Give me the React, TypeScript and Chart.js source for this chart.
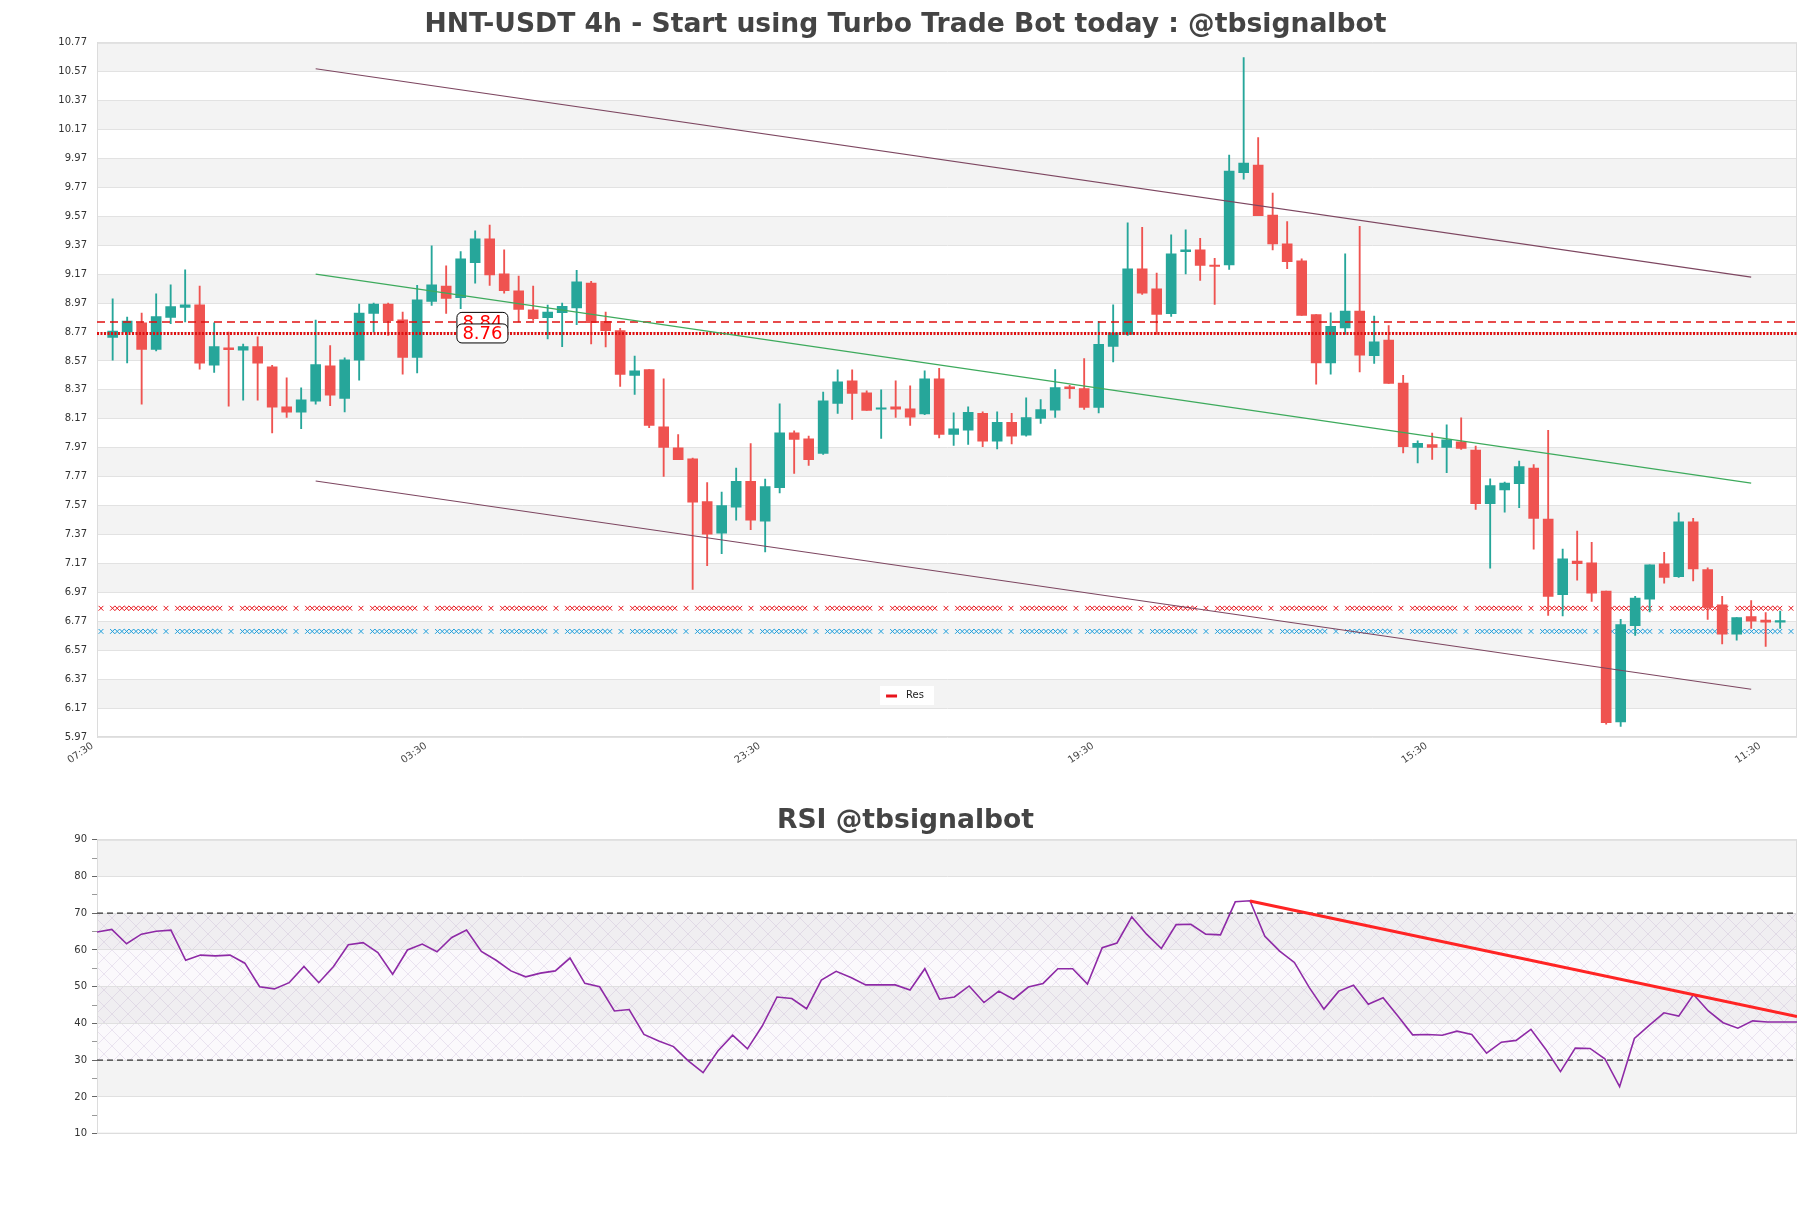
import React, { useEffect, useRef } from 'react';
import { Chart, registerables } from 'chart.js';

Chart.register(...registerables);

const FONT = '"DejaVu Sans", sans-serif';
const GREEN = '#26a69a';
const RED = '#ef5350';

// ---------- data ----------
const opens = [8.733, 8.770, 8.834, 8.650, 8.871, 8.940, 8.958, 8.540, 8.660, 8.644, 8.669, 8.529, 8.253, 8.216, 8.292, 8.536, 8.310, 8.575, 8.899, 8.963, 8.855, 8.595, 8.981, 9.087, 9.007, 9.250, 9.414, 9.172, 9.055, 8.924, 8.869, 8.903, 8.936, 9.109, 8.844, 8.779, 8.469, 8.510, 8.115, 7.970, 7.894, 7.598, 7.379, 7.559, 7.738, 7.462, 7.694, 8.073, 8.032, 7.931, 8.276, 8.432, 8.349, 8.236, 8.253, 8.239, 8.204, 8.446, 8.062, 8.092, 8.207, 8.016, 8.145, 8.057, 8.172, 8.230, 8.391, 8.379, 8.248, 8.671, 8.754, 9.207, 9.069, 8.897, 9.326, 9.338, 9.232, 9.234, 9.871, 9.924, 9.579, 9.379, 9.262, 8.890, 8.556, 8.798, 8.915, 8.607, 8.714, 8.417, 7.972, 7.991, 7.972, 8.010, 7.953, 7.584, 7.679, 7.722, 7.829, 7.477, 6.954, 7.187, 7.175, 6.978, 6.074, 6.740, 6.923, 7.168, 7.078, 7.458, 7.128, 6.883, 6.681, 6.802, 6.778, 6.764];
const highs = [9.00, 8.873, 8.90, 9.034, 9.096, 9.20, 9.087, 8.834, 8.77, 8.687, 8.736, 8.540, 8.453, 8.384, 8.853, 8.676, 8.591, 8.963, 8.97, 8.97, 8.908, 9.092, 9.365, 9.227, 9.326, 9.469, 9.510, 9.338, 9.156, 9.087, 8.956, 8.97, 9.197, 9.12, 8.908, 8.795, 8.604, 8.51, 8.446, 8.06, 7.899, 7.729, 7.664, 7.830, 7.998, 7.754, 8.273, 8.087, 8.050, 8.354, 8.508, 8.508, 8.363, 8.370, 8.432, 8.398, 8.501, 8.519, 8.211, 8.253, 8.218, 8.218, 8.207, 8.315, 8.303, 8.510, 8.402, 8.586, 8.844, 8.958, 9.524, 9.494, 9.177, 9.441, 9.476, 9.418, 9.280, 9.993, 10.667, 10.115, 9.731, 9.533, 9.276, 8.89, 8.903, 9.310, 9.501, 8.880, 8.814, 8.471, 8.017, 8.072, 8.129, 8.176, 7.981, 7.755, 7.732, 7.877, 7.853, 8.091, 7.270, 7.394, 7.316, 6.978, 6.783, 6.942, 7.161, 7.247, 7.520, 7.482, 7.140, 6.942, 6.795, 6.914, 6.830, 6.840];
const lows = [8.575, 8.556, 8.271, 8.639, 8.827, 8.839, 8.513, 8.490, 8.257, 8.299, 8.299, 8.073, 8.179, 8.101, 8.271, 8.260, 8.218, 8.437, 8.77, 8.747, 8.478, 8.487, 8.954, 8.899, 8.931, 9.108, 9.092, 9.039, 8.839, 8.850, 8.722, 8.669, 8.821, 8.687, 8.667, 8.393, 8.338, 8.108, 7.772, 7.887, 6.99, 7.154, 7.237, 7.469, 7.404, 7.250, 7.657, 7.793, 7.848, 7.924, 8.207, 8.165, 8.227, 8.034, 8.179, 8.124, 8.198, 8.037, 7.986, 7.993, 7.977, 7.961, 7.996, 8.050, 8.138, 8.179, 8.310, 8.234, 8.211, 8.563, 8.747, 9.030, 8.754, 8.878, 9.172, 9.126, 8.961, 9.202, 9.827, 9.575, 9.338, 9.207, 8.885, 8.409, 8.478, 8.754, 8.494, 8.552, 8.414, 7.934, 7.865, 7.889, 7.798, 7.958, 7.544, 7.137, 7.525, 7.556, 7.268, 6.811, 6.807, 7.054, 6.907, 6.058, 6.043, 6.673, 6.835, 7.033, 7.073, 7.049, 6.783, 6.614, 6.640, 6.721, 6.597, 6.721];
const closes = [8.777, 8.846, 8.650, 8.876, 8.945, 8.958, 8.554, 8.669, 8.648, 8.669, 8.554, 8.250, 8.216, 8.301, 8.545, 8.333, 8.577, 8.901, 8.963, 8.848, 8.595, 8.993, 9.096, 9.002, 9.276, 9.414, 9.165, 9.055, 8.926, 8.862, 8.908, 8.947, 9.117, 8.834, 8.779, 8.476, 8.501, 8.124, 7.972, 7.887, 7.593, 7.372, 7.570, 7.738, 7.469, 7.701, 8.073, 8.027, 7.887, 8.294, 8.425, 8.345, 8.227, 8.240, 8.237, 8.181, 8.446, 8.062, 8.101, 8.214, 8.016, 8.145, 8.050, 8.179, 8.234, 8.386, 8.379, 8.248, 8.685, 8.765, 9.207, 9.039, 8.892, 9.310, 9.338, 9.230, 9.223, 9.883, 9.938, 9.575, 9.379, 9.257, 8.885, 8.556, 8.809, 8.915, 8.609, 8.702, 8.414, 7.977, 8.000, 7.972, 8.024, 7.965, 7.584, 7.708, 7.725, 7.839, 7.482, 6.942, 7.201, 7.168, 6.964, 6.069, 6.747, 6.930, 7.161, 7.073, 7.458, 7.132, 6.866, 6.681, 6.795, 6.771, 6.764, 6.771];

const rsiValues = [64.9, 65.6, 61.7, 64.3, 65.1, 65.4, 57.2, 58.6, 58.4, 58.6, 56.4, 50.0, 49.4, 51.1, 55.5, 51.1, 55.5, 61.4, 62.0, 59.3, 53.4, 60.0, 61.6, 59.5, 63.4, 65.4, 59.6, 57.2, 54.3, 52.7, 53.7, 54.3, 57.8, 50.9, 50.0, 43.4, 43.8, 37.0, 35.2, 33.7, 29.8, 26.6, 32.5, 36.8, 33.1, 39.3, 47.2, 46.8, 44.0, 51.8, 54.2, 52.5, 50.5, 50.5, 50.5, 49.1, 54.9, 46.6, 47.2, 50.2, 45.7, 48.8, 46.6, 49.9, 50.9, 54.9, 54.9, 50.7, 60.6, 61.9, 69.0, 64.3, 60.4, 66.9, 67.0, 64.3, 64.1, 73.1, 73.4, 63.7, 59.7, 56.6, 49.8, 43.9, 48.8, 50.4, 45.2, 47.0, 42.0, 36.9, 37.0, 36.8, 37.9, 37.0, 31.9, 34.9, 35.4, 38.4, 33.0, 26.9, 33.3, 33.2, 30.4, 22.8, 35.9, 39.5, 42.9, 42.0, 47.9, 43.4, 40.2, 38.7, 40.7, 40.4, 40.4, 40.4];

const xTickPositions = [-1.4, 21.6, 44.6, 67.6, 90.6, 113.6];
const xTickLabels = ['07:30', '03:30', '23:30', '19:30', '15:30', '11:30'];

const trendX = [14, 113];
const channelUpper = [10.59, 9.15];
const channelLower = [7.74, 6.30];
const channelMid = [9.17, 7.725];

const resDashed = 8.84;
const resDotted = 8.76;
const supportLevels = [6.86, 6.70];
const supportColors = ['#e8141c', '#1e9fdc'];
const labelAtIndex = 25.5;

const rsiTrendX = [78, 115];
const rsiTrendY = [73.3, 41.9];
const rsiLevels = [70, 30];

const X_MIN = -1.08;
const X_MAX = 116.16;

// marker pattern (pixel offsets inside one repeat), purely stylistic
const MARK_PERIOD = 65;
const MARK_OFFSETS = [0, 11.5, 16.2, 20.9, 25.6, 30.3, 35.0, 39.7, 44.4, 49.1, 53.8];

function yPriceTicks() {
  const t = [];
  for (let k = 0; k <= 24; k++) t.push({ value: +(5.97 + 0.2 * k).toFixed(2) });
  return t;
}

function bandsPlugin(step: number, hatch: boolean) {
  return {
    id: 'bands',
    beforeDraw(chart: any) {
      const { ctx, chartArea: a, scales } = chart;
      const y = scales.y;
      ctx.save();
      ctx.fillStyle = '#fff';
      ctx.fillRect(0, 0, chart.width, chart.height);
      ctx.fillStyle = '#f3f3f3';
      let k = 0;
      for (let top = y.max; top - step >= y.min - 1e-6; top -= step, k++) {
        if (k % 2 === 0) {
          const p1 = y.getPixelForValue(top);
          const p2 = y.getPixelForValue(top - step);
          ctx.fillRect(a.left, p1, a.right - a.left, p2 - p1);
        }
      }
      if (hatch) {
        const pc = document.createElement('canvas');
        pc.width = 16; pc.height = 16;
        const p = pc.getContext('2d')!;
        p.strokeStyle = 'rgba(150,120,180,0.22)';
        p.lineWidth = 0.8;
        p.beginPath();
        p.moveTo(0, 0); p.lineTo(16, 16);
        p.moveTo(16, 0); p.lineTo(0, 16);
        p.stroke();
        const pat = ctx.createPattern(pc, 'repeat');
        ctx.fillStyle = pat;
        const p1 = y.getPixelForValue(70);
        const p2 = y.getPixelForValue(30);
        ctx.fillRect(a.left, p1, a.right - a.left, p2 - p1);
        ctx.fillStyle = 'rgba(200,180,220,0.08)';
        ctx.fillRect(a.left, p1, a.right - a.left, p2 - p1);
      }
      ctx.restore();
    },
    beforeDatasetsDraw(chart: any) {
      const { ctx, chartArea: a } = chart;
      ctx.save();
      ctx.strokeStyle = '#dcdcdc';
      ctx.lineWidth = 1;
      ctx.strokeRect(a.left + 0.5, a.top + 0.5, a.right - a.left - 1, a.bottom - a.top - 1);
      ctx.restore();
    },
  };
}

const supportMarkersPlugin = {
  id: 'supportMarkers',
  beforeDatasetsDraw(chart: any) {
    const { ctx, chartArea: a, scales } = chart;
    ctx.save();
    ctx.beginPath();
    ctx.rect(a.left, a.top, a.right - a.left, a.bottom - a.top);
    ctx.clip();
    ctx.lineWidth = 1;
    supportLevels.forEach((lv, li) => {
      const y = scales.y.getPixelForValue(lv);
      ctx.strokeStyle = supportColors[li];
      ctx.beginPath();
      const r = 2.4;
      for (let base = a.left + 4; base < a.right; base += MARK_PERIOD) {
        MARK_OFFSETS.forEach((o) => {
          const x = base + o;
          if (x > a.right) return;
          ctx.moveTo(x - r, y - r);
          ctx.lineTo(x + r, y + r);
          ctx.moveTo(x - r, y + r);
          ctx.lineTo(x + r, y - r);
        });
      }
      ctx.stroke();
    });
    ctx.restore();
  },
};

const priceLabelsPlugin = {
  id: 'priceLabels',
  afterDatasetsDraw(chart: any) {
    const { ctx, scales, chartArea: a } = chart;
    const x = scales.x.getPixelForValue(labelAtIndex);
    ctx.save();
    ctx.font = `18px ${FONT}`;
    ctx.textAlign = 'center';
    ctx.textBaseline = 'middle';
    [resDashed, resDotted].forEach((v) => {
      const y = scales.y.getPixelForValue(v);
      const w = 51, h = 19;
      ctx.beginPath();
      ctx.roundRect(x - w / 2, y - h / 2, w, h, 5);
      ctx.fillStyle = '#fff';
      ctx.fill();
      ctx.strokeStyle = '#000';
      ctx.lineWidth = 1;
      ctx.stroke();
      ctx.fillStyle = '#ff0000';
      ctx.fillText(v.toFixed(2), x, y + 1);
    });
    // legend "Res"
    const lx = a.left + (a.right - a.left) * 0.4765;
    const ly = a.bottom - 41.5;
    ctx.fillStyle = '#fff';
    ctx.fillRect(lx - 27, ly - 9.5, 54, 19);
    ctx.strokeStyle = '#e8141c';
    ctx.lineWidth = 3;
    ctx.beginPath();
    ctx.moveTo(lx - 21, ly + 0.5);
    ctx.lineTo(lx - 10, ly + 0.5);
    ctx.stroke();
    ctx.fillStyle = '#222';
    ctx.font = `10px ${FONT}`;
    ctx.textAlign = 'left';
    ctx.fillText('Res', lx - 1, ly);
    ctx.restore();
  },
};

function hLine(v: number, color: string, width: number, dash: number[]) {
  return {
    type: 'line' as const,
    data: [{ x: X_MIN, y: v }, { x: X_MAX, y: v }],
    borderColor: color,
    borderWidth: width,
    borderDash: dash,
    pointRadius: 0,
    order: 0,
  };
}

function trend(ys: number[], color: string) {
  return {
    type: 'line' as const,
    data: [{ x: trendX[0], y: ys[0] }, { x: trendX[1], y: ys[1] }],
    borderColor: color,
    borderWidth: 1.2,
    pointRadius: 0,
    order: 0,
  };
}

export default function App() {
  const priceRef = useRef<HTMLCanvasElement>(null);
  const rsiRef = useRef<HTMLCanvasElement>(null);

  useEffect(() => {
    const idx = opens.map((_, i) => i);
    const colors = idx.map((i) => (closes[i] >= opens[i] ? GREEN : RED));

    const priceChart = new Chart(priceRef.current!, {
      type: 'bar',
      data: {
        datasets: [
          trend(channelUpper, '#7d4660'),
          trend(channelLower, '#7d4660'),
          trend(channelMid, '#3daa5c'),
          hLine(resDashed, '#e01010', 1.5, [8, 5]),
          hLine(resDotted, '#e01010', 3, [2, 1.5]),
          {
            type: 'bar',
            data: idx.map((i) => ({ x: i, y: [opens[i], closes[i]] })),
            backgroundColor: colors,
            barThickness: 10,
            minBarLength: 1.5,
            grouped: false,
            order: 1,
          } as any,
          {
            type: 'bar',
            data: idx.map((i) => ({ x: i, y: [lows[i], highs[i]] })),
            backgroundColor: colors,
            barThickness: 1.2,
            grouped: false,
            order: 2,
          } as any,
        ],
      },
      options: {
        animation: false,
        responsive: false,
        events: [],
        layout: { padding: { left: 14, right: 14, top: 0, bottom: 0 } },
        plugins: {
          legend: { display: false },
          tooltip: { enabled: false },
          title: {
            display: true,
            text: 'HNT-USDT 4h - Start using Turbo Trade Bot today : @tbsignalbot',
            color: '#444',
            font: { family: FONT, size: 26.6, weight: 'bold' },
            padding: { top: 9.2, bottom: 1.6 },
          },
        },
        scales: {
          x: {
            type: 'linear',
            min: X_MIN,
            max: X_MAX,
            offset: false,
            grid: { display: false, drawTicks: false },
            border: { display: false },
            afterBuildTicks: (s: any) => {
              s.ticks = xTickPositions.map((v) => ({ value: v }));
            },
            afterFit: (s: any) => {
              s.height = 53;
            },
            ticks: {
              autoSkip: false,
              minRotation: 35,
              maxRotation: 35,
              padding: 3,
              color: '#444',
              font: { family: FONT, size: 10 },
              callback: (_v: any, i: number) => xTickLabels[i],
            },
          },
          y: {
            type: 'linear',
            min: 5.97,
            max: 10.77,
            afterBuildTicks: (s: any) => {
              s.ticks = yPriceTicks();
            },
            afterFit: (s: any) => {
              s.width = 83;
            },
            grid: { color: '#e2e2e2', drawTicks: false },
            border: { display: true, color: '#dcdcdc' },
            ticks: {
              padding: 10,
              color: '#333',
              font: { family: FONT, size: 10 },
              callback: (v: any) => Number(v).toFixed(2),
            },
          },
        },
      },
      plugins: [bandsPlugin(0.2, false), supportMarkersPlugin, priceLabelsPlugin],
    } as any);

    const rsiChart = new Chart(rsiRef.current!, {
      type: 'line',
      data: {
        datasets: [
          {
            data: [{ x: rsiTrendX[0], y: rsiTrendY[0] }, { x: rsiTrendX[1], y: rsiTrendY[1] }],
            borderColor: '#ff2424',
            borderWidth: 3,
            pointRadius: 0,
            order: 0,
          },
          {
            data: rsiValues.map((v, i) => ({ x: i, y: v })),
            borderColor: '#8e2aa6',
            borderWidth: 1.6,
            pointRadius: 0,
            tension: 0,
            order: 1,
          },
          ...rsiLevels.map((lv) => ({
            data: [{ x: 0, y: lv }, { x: rsiValues.length - 1, y: lv }],
            borderColor: '#333',
            borderWidth: 1.2,
            borderDash: [6, 4],
            pointRadius: 0,
            order: 2,
          })),
        ],
      },
      options: {
        animation: false,
        responsive: false,
        events: [],
        layout: { padding: { left: 14, right: 14, top: 0, bottom: 74.3 } },
        plugins: {
          legend: { display: false },
          tooltip: { enabled: false },
          title: {
            display: true,
            text: 'RSI @tbsignalbot',
            color: '#444',
            font: { family: FONT, size: 26.6, weight: 'bold' },
            padding: { top: 15.1, bottom: 2.7 },
          },
        },
        scales: {
          x: { type: 'linear', min: 0, max: rsiValues.length - 1, display: false },
          y: {
            min: 10,
            max: 90,
            afterBuildTicks: (s: any) => {
              const t = [];
              for (let v = 10; v <= 90; v += 5) t.push({ value: v });
              s.ticks = t;
            },
            afterFit: (s: any) => {
              s.width = 83;
            },
            grid: {
              color: (c: any) => (c.tick && c.tick.value % 10 === 0 ? '#e0e0e0' : 'rgba(0,0,0,0)'),
              tickColor: (c: any) => (c.tick && c.tick.value % 10 === 0 ? '#666' : '#999'),
              tickLength: 5,
            },
            border: { display: true, color: '#dcdcdc' },
            ticks: {
              padding: 5,
              color: '#333',
              font: { family: FONT, size: 10 },
              callback: (v: any) => (Number(v) % 10 === 0 ? String(v) : ''),
            },
          },
        },
      },
      plugins: [bandsPlugin(10, true)],
    } as any);

    return () => {
      priceChart.destroy();
      rsiChart.destroy();
    };
  }, []);

  return (
    <div style={{ position: 'absolute', left: 0, top: 0, width: 1811, height: 1208, background: '#fff', overflow: 'hidden' }}>
      <canvas
        ref={priceRef}
        width={1811}
        height={790}
        style={{ position: 'absolute', left: 0, top: 0, width: 1811, height: 790, display: 'block' }}
      />
      <canvas
        ref={rsiRef}
        width={1811}
        height={418}
        style={{ position: 'absolute', left: 0, top: 790, width: 1811, height: 418, display: 'block' }}
      />
    </div>
  );
}
